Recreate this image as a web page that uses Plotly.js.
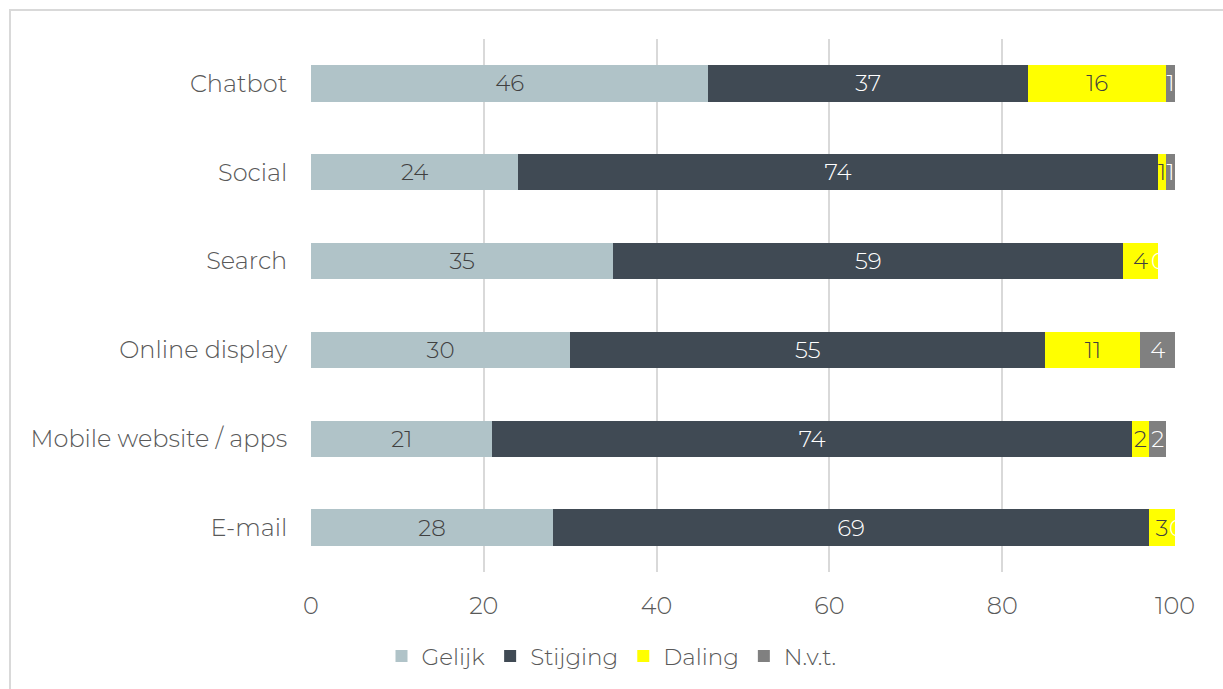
<!DOCTYPE html>
<html>
<head>
<meta charset="utf-8">
<script src="https://cdn.plot.ly/plotly-3.0.1.min.js"></script>
<style>
  html, body { margin: 0; padding: 0; background: #ffffff; overflow: hidden; }
  #frame { position: absolute; left: 9px; top: 9px; width: 1400px; height: 900px; border: 2px solid #d9d9d9; box-sizing: border-box; }
  #chart { position: absolute; left: 0; top: 0; width: 1223px; height: 689px; }
</style>
</head>
<body>
<div id="frame"></div>
<div id="chart"></div>
<script>
const categories = ["Chatbot", "Social", "Search", "Online display", "Mobile website / apps", "E-mail"];
const gelijk   = [46, 24, 35, 30, 21, 28];
const stijging = [37, 74, 59, 55, 74, 69];
const daling   = [16, 1, 4, 11, 2, 3];
const nvt      = [1, 1, 0, 4, 2, 0];
const xTicks   = [0, 20, 40, 60, 80, 100];

const FONT = "Montserrat, 'Open Sans', 'Noto Sans', sans-serif";

function series(name, values, color, textColor) {
  return {
    type: "bar",
    orientation: "h",
    name: name,
    y: categories,
    x: values,
    marker: { color: color },
    text: values.map(String),
    textposition: "inside",
    insidetextanchor: "middle",
    constraintext: "none",
    cliponaxis: false,
    textfont: { family: FONT, size: 23, color: textColor, weight: 300 },
    hoverinfo: "x+name"
  };
}

const data = [
  series("Gelijk", gelijk, "#b0c3c8", "#404040"),
  series("Stijging", stijging, "#404a54", "#ffffff"),
  series("Daling", daling, "#ffff00", "#404040"),
  series("N.v.t.", nvt, "#808080", "#ffffff")
];

// Labels of zero-width N.v.t. segments (drawn at the end of each stacked bar)
const zeroLabels = [];
categories.forEach(function (c, i) {
  if (nvt[i] === 0) {
    zeroLabels.push({
      x: gelijk[i] + stijging[i] + daling[i] + nvt[i],
      y: c,
      xref: "x", yref: "y",
      text: String(nvt[i]),
      showarrow: false,
      xanchor: "center",
      xshift: 1,
      font: { family: FONT, size: 23, color: "#ffffff", weight: 300 }
    });
  }
});

const layout = {
  width: 1223,
  height: 689,
  barmode: "stack",
  bargap: 0.59,
  paper_bgcolor: "rgba(0,0,0,0)",
  plot_bgcolor: "rgba(0,0,0,0)",
  margin: { l: 311, r: 48, t: 39, b: 117 },
  font: { family: FONT, size: 23, color: "#595959", weight: 300 },
  showlegend: true,
  annotations: zeroLabels,
  legend: {
    orientation: "h",
    x: 0.5, xanchor: "center",
    xref: "container",
    y: 0.048, yanchor: "middle",
    yref: "container",
    font: { family: FONT, size: 23, color: "#595959", weight: 300 },
    traceorder: "normal",
    itemwidth: 30,
    itemclick: false
  },
  xaxis: {
    range: [0, 100],
    tickvals: xTicks,
    ticktext: xTicks.map(String),
    showgrid: true,
    gridcolor: "#d9d9d9",
    gridwidth: 2,
    zeroline: false,
    showline: false,
    ticks: "outside",
    ticklen: 12,
    tickcolor: "rgba(0,0,0,0)",
    tickfont: { family: FONT, size: 24, color: "#595959", weight: 300 },
    fixedrange: true
  },
  yaxis: {
    categoryorder: "array",
    categoryarray: categories.slice().reverse(),
    autorange: true,
    showgrid: false,
    zeroline: false,
    showline: false,
    ticks: "outside",
    ticklen: 18,
    tickcolor: "rgba(0,0,0,0)",
    tickfont: { family: FONT, size: 24, color: "#595959", weight: 300 },
    fixedrange: true
  }
};

Plotly.newPlot("chart", data, layout, { displayModeBar: false, staticPlot: true });
</script>
</body>
</html>
